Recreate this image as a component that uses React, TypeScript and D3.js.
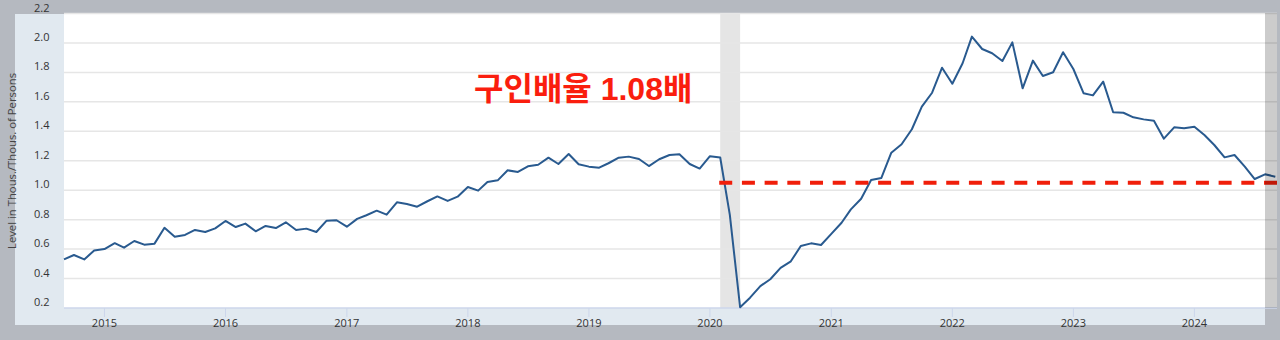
import React from "react";
import * as d3 from "d3";

const startMonth = new Date(2014, 8, 1);
const values: number[] = [
  0.53, 0.56, 0.53, 0.59, 0.6, 0.64, 0.61, 0.655, 0.63, 0.637,
  0.745, 0.684, 0.696, 0.73, 0.716, 0.741, 0.791, 0.75, 0.773, 0.721,
  0.757, 0.743, 0.782, 0.73, 0.739, 0.716, 0.793, 0.796, 0.752, 0.805,
  0.83, 0.861, 0.834, 0.918, 0.906, 0.888, 0.925, 0.958, 0.927, 0.956,
  1.022, 0.997, 1.056, 1.067, 1.135, 1.124, 1.162, 1.173, 1.221, 1.178,
  1.246, 1.176, 1.16, 1.153, 1.183, 1.221, 1.228, 1.212, 1.164, 1.21,
  1.239, 1.244, 1.178, 1.147, 1.231, 1.222, 0.832, 0.205, 0.27, 0.349,
  0.395, 0.472, 0.517, 0.621, 0.639, 0.628, 0.703, 0.779, 0.87, 0.942,
  1.069, 1.083, 1.255, 1.312, 1.414, 1.567, 1.662, 1.832, 1.723, 1.862,
  2.043, 1.959, 1.93, 1.877, 2.004, 1.692, 1.88, 1.776, 1.801, 1.937,
  1.823, 1.658, 1.644, 1.737, 1.529, 1.526, 1.495, 1.481, 1.472, 1.35,
  1.427, 1.42, 1.431, 1.373, 1.307, 1.223, 1.239, 1.16, 1.076, 1.108,
  1.092,
];
const yTicks = [0.2, 0.4, 0.6, 0.8, 1.0, 1.2, 1.4, 1.6, 1.8, 2.0, 2.2];
const xTickYears = [2015, 2016, 2017, 2018, 2019, 2020, 2021, 2022, 2023, 2024];
const recessionStart = new Date(2020, 1, 1);
const recessionEnd = new Date(2020, 3, 1);
const refLineValue = 1.05;
const refLineStart = new Date(2020, 1, 1);
const annotationText = "구인배율 1.08배";
const yAxisTitle = "Level in Thous./Thous. of Persons";

const W = 1280;
const H = 340;

export default function App() {
  const dates = values.map((_, i) => d3.timeMonth.offset(startMonth, i));
  const x = d3
    .scaleTime()
    .domain([dates[0], dates[dates.length - 1]])
    .range([64, 1275.3]);
  const y = d3.scaleLinear().domain([0.2, 2.2]).range([308, 13.5]);
  const line = d3
    .line<number>()
    .x((_, i) => x(dates[i]))
    .y((d) => y(d));
  const plotL = 64;
  const plotR = 1277;
  const plotT = 13.5;
  const plotB = 308;
  const font = "'Open Sans', 'Noto Sans', sans-serif";

  return (
    <svg
      width={W}
      height={H}
      style={{ position: "absolute", left: 0, top: 0, display: "block" }}
    >
      <rect x={0} y={0} width={W} height={H} fill="#b5b9c0" />
      <rect x={15} y={14} width={1250} height={311} fill="#e1e9f0" />
      <rect x={plotL} y={plotT} width={plotR - plotL} height={plotB - plotT} fill="#ffffff" />
      <rect
        x={x(recessionStart)}
        y={plotT}
        width={x(recessionEnd) - x(recessionStart)}
        height={plotB - plotT}
        fill="#e5e5e5"
      />
      {yTicks.map((t) => (
        <line
          key={"g" + t}
          x1={plotL}
          x2={plotR}
          y1={y(t)}
          y2={y(t)}
          stroke={t === 0.2 ? "#ccd6eb" : "#e6e6e6"}
          strokeWidth={1.5}
        />
      ))}
      {yTicks.map((t) => (
        <text
          key={"yl" + t}
          x={49.5}
          y={y(t) - 2}
          textAnchor="end"
          fontFamily={font}
          fontSize={11}
          fill="#333"
        >
          {t.toFixed(1)}
        </text>
      ))}
      {xTickYears.map((yr) => {
        const xx = x(new Date(yr, 0, 1));
        return (
          <g key={"x" + yr}>
            <line x1={xx} x2={xx} y1={plotB} y2={plotB + 9} stroke="#ccd6eb" strokeWidth={1} />
            <text
              x={xx}
              y={327}
              textAnchor="middle"
              fontFamily={font}
              fontSize={11}
              fill="#333"
            >
              {yr}
            </text>
          </g>
        );
      })}
      <text
        transform={`translate(15.5, 161) rotate(-90)`}
        textAnchor="middle"
        fontFamily={font}
        fontSize={11.3}
        fill="#444"
      >
        {yAxisTitle}
      </text>
      <path d={line(values) || ""} fill="none" stroke="#295a8f" strokeWidth={2} strokeLinejoin="round" />
      <line
        x1={x(refLineStart) - 1}
        x2={plotR}
        y1={y(refLineValue)}
        y2={y(refLineValue)}
        stroke="#f01e0a"
        strokeWidth={4}
        strokeDasharray="13 9.7"
      />
      <rect x={1265} y={13} width={12} height={plotB - 13} fill="#000" fillOpacity={0.2} />
      <text
        x={474}
        y={100}
        fontFamily="'Liberation Sans', 'Noto Sans CJK KR', sans-serif"
        fontWeight={700}
        fontSize={32}
        fill="#fa1e0e"
      >
        {annotationText}
      </text>
    </svg>
  );
}
